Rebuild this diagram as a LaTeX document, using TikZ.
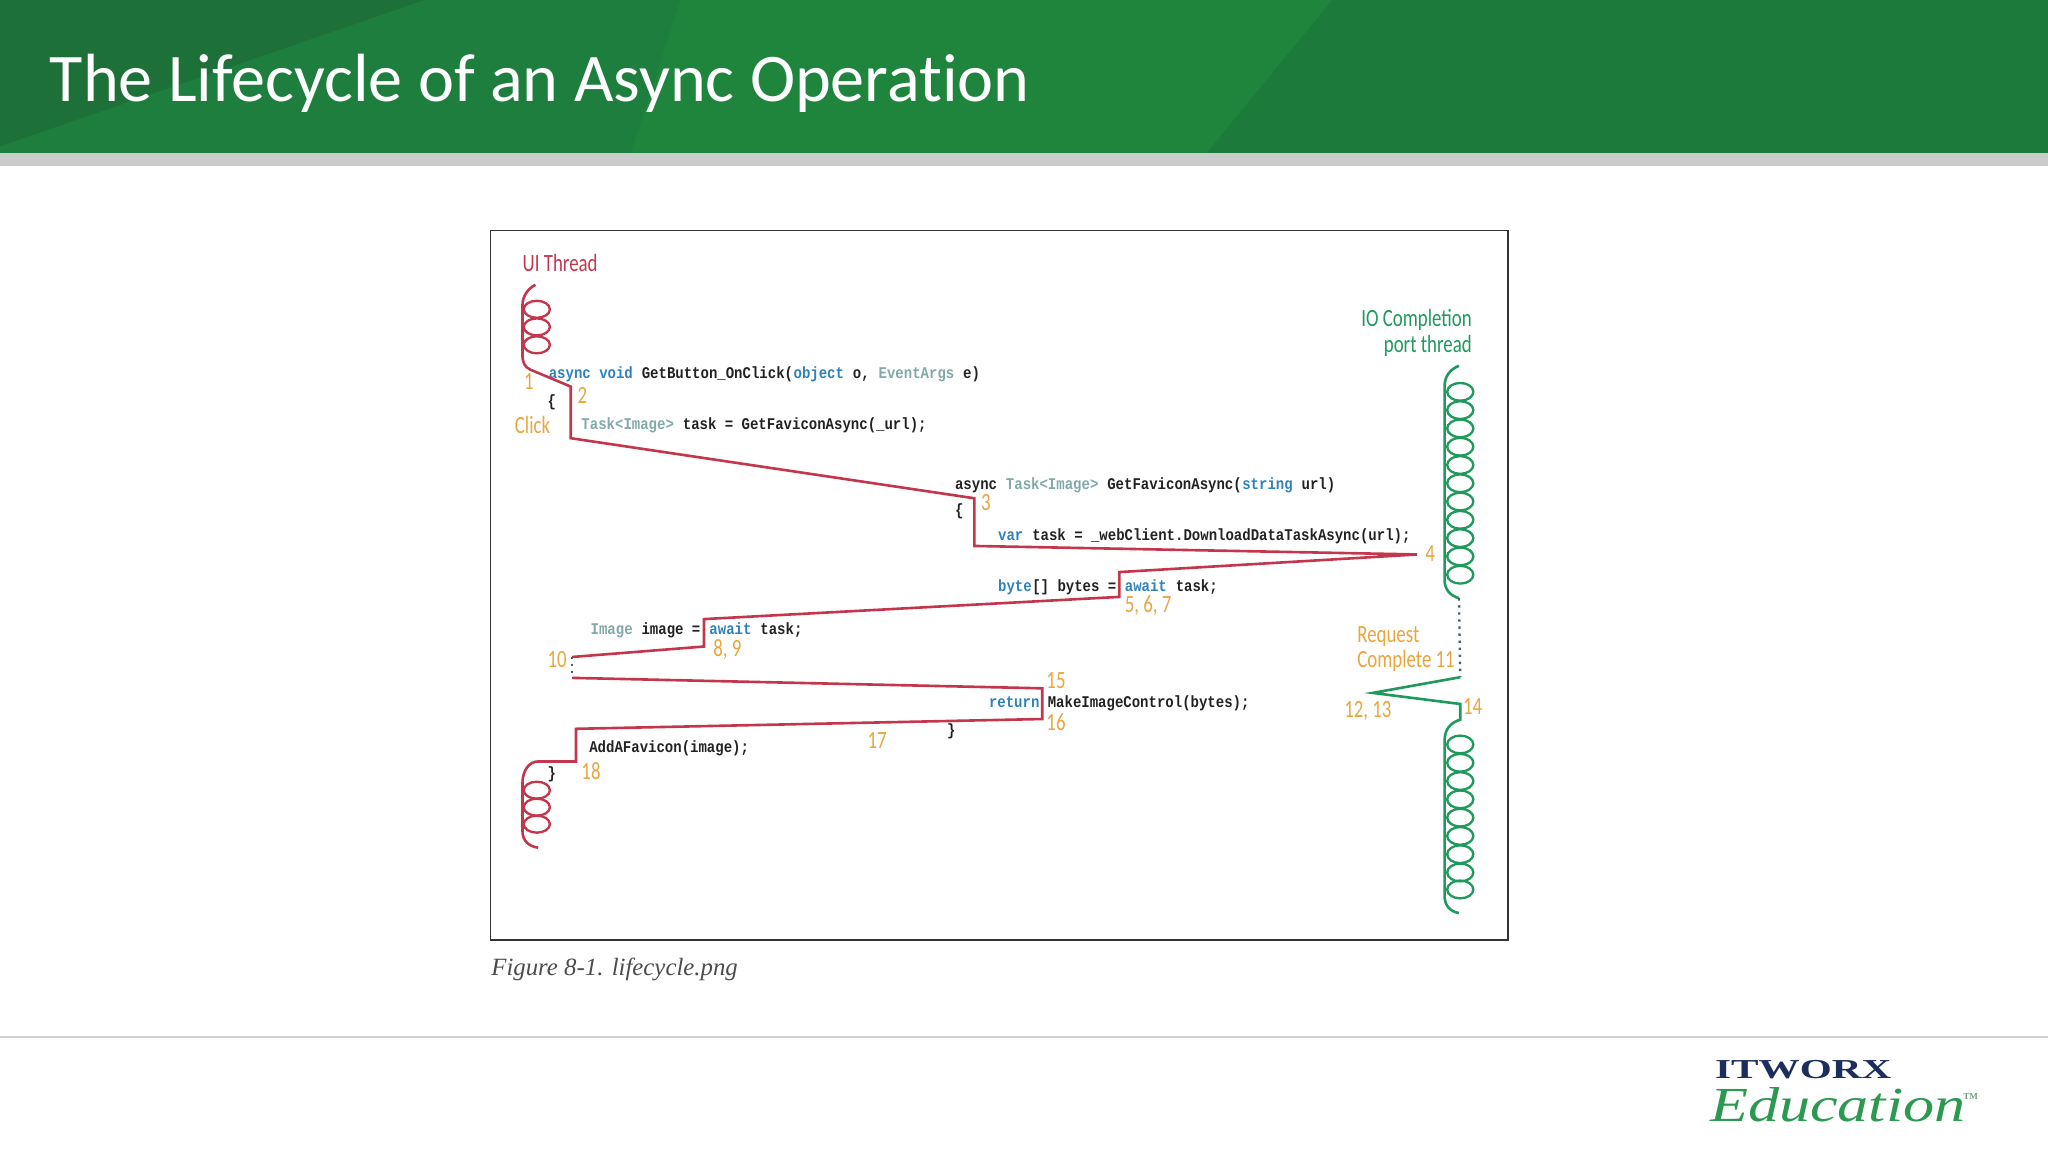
\documentclass[tikz,border=0pt]{standalone}
\usepackage{fontspec}
\usetikzlibrary{positioning}
\setmainfont{Carlito}
\newfontfamily\titlefont[Ligatures=NoCommon]{Carlito}
\newfontfamily\labelfont[FakeStretch=0.76]{Carlito}
\newfontfamily\codefont[FakeStretch=0.858]{Liberation Mono}
\newfontfamily\capfont{Liberation Serif}
\newfontfamily\itwfont[FakeStretch=1.5]{Liberation Serif}
\newfontfamily\edufont[FakeStretch=1.27]{Liberation Serif}
\definecolor{bargreen}{HTML}{1F853D}
\definecolor{bardark}{HTML}{1D7038}
\definecolor{barmid}{HTML}{1E7E3D}
\definecolor{barright}{HTML}{1C7A3A}
\definecolor{bandgrey}{HTML}{CBCDCB}
\definecolor{threadred}{HTML}{C4364C}
\definecolor{threadgreen}{HTML}{1F9A5C}
\definecolor{numorange}{HTML}{E8A540}
\definecolor{kwblue}{HTML}{2E82BC}
\definecolor{typeteal}{HTML}{82A8A8}
\definecolor{codeblack}{HTML}{222222}
\definecolor{dotgrey}{HTML}{4A6070}
\definecolor{logonavy}{HTML}{1C2F5C}
\definecolor{logogreen}{HTML}{2B9A50}
\tikzset{
 codetxt/.style={anchor=base west, inner sep=0pt, text=codeblack, font=\codefont\bfseries\fontsize{12.5}{14}\selectfont},
 kw/.style={codetxt, text=kwblue},
 typetxt/.style={codetxt, text=typeteal},
 numlabel/.style={anchor=base west, inner sep=0pt, text=numorange, font=\labelfont\fontsize{19}{22}\selectfont},
 redline/.style={draw=threadred, line width=2pt, line join=miter},
 greenline/.style={draw=threadgreen, line width=2pt, line join=miter},
 dotline/.style={draw=dotgrey, line width=1.8pt, dash pattern=on 1.8pt off 3.6pt}
}
\begin{document}
\begin{tikzpicture}[x=1pt,y=-1pt]
 \useasboundingbox (0,0) rectangle (1568,882);

 % Title bar
 \fill[bargreen] (0,0) rectangle (1568,117);
 \fill[barmid] (0,0) -- (521,0) -- (483,117) -- (0,117) -- cycle;
 \fill[bardark] (0,0) -- (325,0) -- (0,112) -- cycle;
 \fill[barright] (1020,0) -- (1568,0) -- (1568,117) -- (924,117) -- cycle;
 \fill[bandgrey] (0,117) rectangle (1568,127);
 \node[anchor=base west, inner sep=0pt, text=white, font=\titlefont\fontsize{52.2}{56}\selectfont] (title) at (38,78) {The Lifecycle of an Async Operation};

 % Figure frame and footer
 \node[draw=black!80, line width=1.2pt, minimum width=779pt, minimum height=543pt, inner sep=0pt, anchor=north west] (frame) at (375,176) {};
 \node[anchor=base west, inner sep=0pt, text=black!70, font=\capfont\itshape\fontsize{19}{22}\selectfont] (caption) at (376,747) {Figure 8-1. lifecycle.png};
 \coordinate (footl) at (0,794);
 \coordinate (footr) at (1568,794);
 \draw[black!18, line width=1pt] (footl) -- (footr);
 \node[anchor=base west, inner sep=0pt, text=logonavy, font=\itwfont\bfseries\fontsize{21}{24}\selectfont] (itworx) at (1313,826) {ITWORX};
 \node[anchor=base west, inner sep=0pt, text=logogreen, font=\edufont\itshape\fontsize{37.5}{40}\selectfont] (education) at (1309,859) {Education};
 \node[anchor=base west, inner sep=0pt, text=logogreen!60!black!60, font=\capfont\bfseries\fontsize{7}{8}\selectfont] (tm) at (1503,842) {TM};

 % Thread names
 \node[numlabel, text=threadred] (uithread) at (400,208) {UI Thread};
 \node[numlabel, text=threadgreen, anchor=base east] (iocomp) at (1127,250) {IO Completion};
 \node[numlabel, text=threadgreen, anchor=base east] (portthread) at (1127,270) {port thread};

 % Code lines
 \node[kw] (asyncone) at (420,290) {async void};
 \node[codetxt, right=6.4pt of asyncone.base east, anchor=base west] (getbutton) {GetButton\_OnClick(};
 \node[kw, right=0pt of getbutton.base east, anchor=base west] (objectkw) {object};
 \node[codetxt, right=0pt of objectkw.base east, anchor=base west] (objecto) {~o,};
 \node[typetxt, right=6.4pt of objecto.base east, anchor=base west] (eventargs) {EventArgs};
 \node[codetxt, right=6.4pt of eventargs.base east, anchor=base west] (argse) {e)};
 \node[codetxt] (braceone) at (419,311) {\{};
 \node[typetxt] (taskimg) at (445,329) {Task<Image>};
 \node[codetxt, right=6.4pt of taskimg.base east, anchor=base west] (taskcall) {task = GetFaviconAsync(\_url);};
 \node[codetxt] (asynctwo) at (731,375) {async};
 \node[typetxt, right=6.4pt of asynctwo.base east, anchor=base west] (tasktwo) {Task<Image>};
 \node[codetxt, right=6.4pt of tasktwo.base east, anchor=base west] (getfav) {GetFaviconAsync(};
 \node[kw, right=0pt of getfav.base east, anchor=base west] (stringkw) {string};
 \node[codetxt, right=6.4pt of stringkw.base east, anchor=base west] (urlarg) {url)};
 \node[codetxt] (bracetwo) at (731,395) {\{};
 \node[kw] (varkw) at (764,414) {var};
 \node[codetxt, right=6.4pt of varkw.base east, anchor=base west] (vartask) {task = \_webClient.DownloadDataTaskAsync(url);};
 \node[kw] (bytekw) at (764,453) {byte};
 \node[codetxt, right=0pt of bytekw.base east, anchor=base west] (bytes) {[] bytes =};
 \node[kw] (awaitone) at (861,453) {await};
 \node[codetxt, right=6.4pt of awaitone.base east, anchor=base west] (taskone) {task;};
 \node[typetxt] (imagetype) at (452,486) {Image};
 \node[codetxt, right=6.4pt of imagetype.base east, anchor=base west] (imagevar) {image =};
 \node[kw] (awaittwo) at (543,486) {await};
 \node[codetxt, right=6.4pt of awaittwo.base east, anchor=base west] (tasktwoend) {task;};
 \node[kw] (returnkw) at (757,542) {return};
 \node[codetxt] (makeimage) at (802,542) {MakeImageControl(bytes);};
 \node[codetxt] (bracethree) at (725,563) {\}};
 \node[codetxt] (addfav) at (451,576) {AddAFavicon(image);};
 \node[codetxt] (bracefour) at (419,596) {\}};

 % Step numbers
 \node[numlabel] (stepone) at (401,298) {1};
 \node[numlabel] (steptwo) at (442,309) {2};
 \node[numlabel] (click) at (394,332) {Click};
 \node[numlabel] (stepthree) at (751,391) {3};
 \node[numlabel] (stepfour) at (1091,430) {4};
 \node[numlabel] (stepfive) at (861,469) {5, 6, 7};
 \node[numlabel] (stepeight) at (546,503) {8, 9};
 \node[numlabel] (stepten) at (419,511) {10};
 \node[numlabel] (request) at (1039,492) {Request};
 \node[numlabel] (complete) at (1039,511) {Complete 11};
 \node[numlabel] (steptwelve) at (1029,549) {12, 13};
 \node[numlabel] (stepfourteen) at (1120,547) {14};
 \node[numlabel] (stepfifteen) at (801,527) {15};
 \node[numlabel] (stepsixteen) at (801,559) {16};
 \node[numlabel] (stepseventeen) at (664,573) {17};
 \node[numlabel] (stepeighteen) at (445,597) {18};

 % UI thread path
 \coordinate (uitop) at (410,218);
 \coordinate (uileft) at (400,234);
 \coordinate (uiturn) at (400,272);
 \coordinate (uistart) at (406,283);
 \coordinate (ra) at (437,296);
 \coordinate (rb) at (437,335.5);
 \coordinate (rc) at (746,381.5);
 \coordinate (rd) at (746,418);
 \coordinate (tip) at (1085,424.5);
 \coordinate (re) at (857,438);
 \coordinate (rf) at (857,457);
 \coordinate (rg) at (539,474);
 \coordinate (rh) at (539,495);
 \coordinate (ri) at (438,503);
 \coordinate (rj) at (438,519);
 \coordinate (rk) at (798,527);
 \coordinate (rl) at (798,550.5);
 \coordinate (rm) at (441,558);
 \coordinate (rn) at (441,583);
 \coordinate (ro) at (412,583);
 \coordinate (rp) at (400,600);
 \coordinate (rq) at (400,636);
 \coordinate (rr) at (412,649);
 \draw[redline] (uitop) .. controls (404,221) and (400,227) .. (uileft) -- (uiturn) .. controls (400,278) and (402,281) .. (uistart) -- (ra) -- (rb) -- (rc) -- (rd) -- (tip) -- (re) -- (rf) -- (rg) -- (rh) -- (ri);
 \draw[redline] (rj) -- (rk) -- (rl) -- (rm) -- (rn) -- (ro) .. controls (405,583) and (400,590) .. (rp) -- (rq) .. controls (400,644) and (405,648) .. (rr);
 \draw[dotline] (ri) -- (rj);
 \foreach \cy in {236.8,250.3,264} \draw[threadred, line width=1.8pt] (411,\cy) ellipse (10 and 6.5);
 \foreach \cy in {605,618,631} \draw[threadred, line width=1.8pt] (411,\cy) ellipse (10 and 6.5);

 % IO completion thread path
 \coordinate (gtop) at (1117,280);
 \coordinate (gleft) at (1106,296);
 \coordinate (gturn) at (1106,444);
 \coordinate (gend) at (1117,458);
 \coordinate (ga) at (1118,518.5);
 \coordinate (gb) at (1051,530.5);
 \coordinate (gc) at (1118,539);
 \coordinate (gd) at (1118,551);
 \coordinate (ge) at (1106,567);
 \coordinate (gf) at (1106,686);
 \coordinate (gg) at (1117,699);
 \draw[greenline] (gtop) .. controls (1110,283) and (1106,288) .. (gleft) -- (gturn) .. controls (1106,451) and (1110,456) .. (gend);
 \draw[dotline] (gend) -- (ga);
 \draw[greenline] (ga) -- (gb) -- (gc) -- (gd) .. controls (1111,553) and (1106,558) .. (ge) -- (gf) .. controls (1106,693) and (1110,698) .. (gg);
 \foreach \cy in {300,314,328,342,356,370,384,398,412,426,440} \draw[threadgreen, line width=1.8pt] (1118,\cy) ellipse (10 and 6.8);
 \foreach \cy in {570,584,598,612,626,640,654,668,681} \draw[threadgreen, line width=1.8pt] (1118,\cy) ellipse (10 and 6.8);
\end{tikzpicture}
\end{document}
